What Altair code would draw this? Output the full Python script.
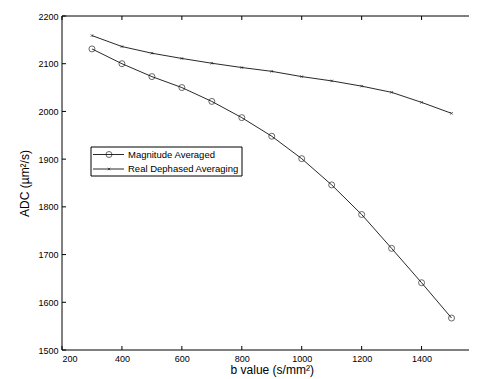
import altair as alt
import pandas as pd

b_values = [300, 400, 500, 600, 700, 800, 900, 1000, 1100, 1200, 1300, 1400, 1500]
magnitude_avg = [2131, 2100, 2073, 2050, 2021, 1987, 1948, 1901, 1846, 1784, 1713, 1641, 1567]
real_dephased = [2159, 2136, 2122, 2111, 2101, 2092, 2084, 2073, 2064, 2053, 2040, 2019, 1996]
series_names = ["Magnitude Averaged", "Real Dephased Averaging"]
x_ticks = [200, 400, 600, 800, 1000, 1200, 1400, 1600]
y_ticks = [1500, 1600, 1700, 1800, 1900, 2000, 2100, 2200]

W_FULL, H = 419.5, 334          # full axes box (its right edge falls past the window)
W = 407                         # part of the axes box kept inside the page
X_END = 200 + (1600 - 200) * W / W_FULL
FONT = "Liberation Sans"

rows = []
for b, m in zip(b_values, magnitude_avg):
    rows.append({"b": b, "adc": m, "series": series_names[0]})
for b, r in zip(b_values, real_dephased):
    rows.append({"b": b, "adc": r, "series": series_names[1]})
df = pd.DataFrame(rows)

xs = alt.Scale(domain=[200, X_END], nice=False, zero=False)
ys = alt.Scale(domain=[1500, 2200], nice=False, zero=False)
xaxis = alt.Axis(values=x_ticks[:-1], format="d", ticks=False, domain=False, grid=False,
                 labelFont=FONT, labelFontSize=9, labelColor="#000", labelPadding=4,
                 title="b value  (s/mm²)", titleFont=FONT, titleFontSize=12,
                 titleFontWeight="normal", titleColor="#000",
                 titleX=(W_FULL / 2), titleY=23, titleBaseline="alphabetic")
yaxis = alt.Axis(values=y_ticks, format="d", ticks=False, domain=False, grid=False,
                 labelFont=FONT, labelFontSize=9, labelColor="#000", labelPadding=4,
                 title="ADC  (µm²/s)", titleFont=FONT, titleFontSize=12,
                 titleFontWeight="normal", titleColor="#000", titlePadding=6)
X = alt.X("b:Q", scale=xs, axis=xaxis)
Y = alt.Y("adc:Q", scale=ys, axis=yaxis)

marker_x = "M -0.5 -0.5 L 0.5 0.5 M 0.5 -0.5 L -0.5 0.5"
shape_scale = alt.Scale(domain=series_names, range=["circle", marker_x])

base = alt.Chart(df)
lines = base.mark_line(color="#111", strokeWidth=0.9).encode(
    x=X, y=Y, detail="series:N")
points = base.mark_point(filled=False, color="#111", strokeWidth=0.9).encode(
    x=X, y=Y,
    shape=alt.Shape("series:N", scale=shape_scale, legend=None),
    size=alt.Size("series:N", scale=alt.Scale(domain=series_names, range=[36, 25]), legend=None))

xt = pd.DataFrame({"b": x_ticks})
yt = pd.DataFrame({"adc": y_ticks})
tick_style = dict(color="#000", strokeWidth=1)
xt_bot = alt.Chart(xt).mark_rule(**tick_style).encode(x=X, y=alt.value(H), y2=alt.value(H - 4))
xt_top = alt.Chart(xt).mark_rule(**tick_style).encode(x=X, y=alt.value(0), y2=alt.value(4))
yt_left = alt.Chart(yt).mark_rule(**tick_style).encode(y=Y, x=alt.value(0), x2=alt.value(4))
yt_right = alt.Chart(yt).mark_rule(**tick_style).encode(
    y=Y, x=alt.value(W_FULL - 4), x2=alt.value(W_FULL))
last_lab = alt.Chart(pd.DataFrame({"b": x_ticks[-1:]})).mark_text(
    align="center", baseline="top", font=FONT, fontSize=9, color="#000", dy=4
).encode(x=X, y=alt.value(H), text=alt.Text("b:Q", format="d"))

one = alt.Data(values=[{}])
frame_top = alt.Chart(one).mark_rule(color="#000", strokeWidth=1).encode(
    x=alt.value(0), x2=alt.value(W_FULL), y=alt.value(0))
frame_bot = alt.Chart(one).mark_rule(color="#000", strokeWidth=1).encode(
    x=alt.value(0), x2=alt.value(W_FULL), y=alt.value(H))
frame_left = alt.Chart(one).mark_rule(color="#000", strokeWidth=1).encode(
    x=alt.value(0), y=alt.value(0), y2=alt.value(H))

leg_box = alt.Chart(one).mark_rect(fill="white", stroke="#000", strokeWidth=1).encode(
    x=alt.value(29), x2=alt.value(180), y=alt.value(131), y2=alt.value(160))
leg_l1 = alt.Chart(one).mark_rule(color="#111", strokeWidth=0.9).encode(
    x=alt.value(31), x2=alt.value(62), y=alt.value(138.5))
leg_l2 = alt.Chart(one).mark_rule(color="#111", strokeWidth=0.9).encode(
    x=alt.value(31), x2=alt.value(62), y=alt.value(153))
leg_p1 = alt.Chart(one).mark_point(shape="circle", size=36, filled=False, color="#111",
                                   strokeWidth=0.9).encode(x=alt.value(47), y=alt.value(138.5))
leg_p2 = alt.Chart(one).mark_point(shape=marker_x, size=25, filled=False, color="#111",
                                   strokeWidth=0.9).encode(x=alt.value(47), y=alt.value(153))
leg_t1 = alt.Chart(one).mark_text(text=series_names[0], align="left", baseline="middle",
                                  font=FONT, fontSize=9.5, color="#000").encode(
    x=alt.value(66), y=alt.value(138.5))
leg_t2 = alt.Chart(one).mark_text(text=series_names[1], align="left", baseline="middle",
                                  font=FONT, fontSize=9.5, color="#000").encode(
    x=alt.value(66), y=alt.value(153))

chart = alt.layer(
    lines, points, frame_top, frame_bot, frame_left,
    xt_bot, xt_top, yt_left, yt_right, last_lab,
    leg_box, leg_l1, leg_l2, leg_p1, leg_p2, leg_t1, leg_t2
).properties(
    width=W, height=H,
    autosize=alt.AutoSizeParams(type="none"),
    padding={"left": 54, "top": 8, "right": 0, "bottom": 30},
    background="white",
).configure_view(strokeWidth=0)

chart.save("out.html", embed_options={"renderer": "svg", "actions": False})
